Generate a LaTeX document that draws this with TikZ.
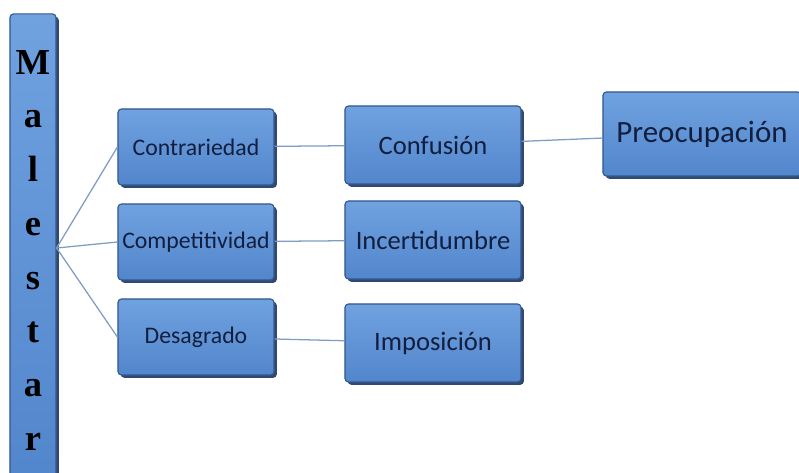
\documentclass[tikz,border=0pt]{standalone}
\usepackage{fontspec}
\setmainfont{Carlito}
\newfontfamily\barfont{Liberation Serif}
\usepackage{xcolor}
\usetikzlibrary{positioning, shadows}
\definecolor{boxtop}{RGB}{112,162,224}
\definecolor{boxbot}{RGB}{82,134,204}
\definecolor{boxedge}{RGB}{52,88,140}
\definecolor{boxshade}{RGB}{38,62,104}
\definecolor{boxtext}{RGB}{18,30,62}
\definecolor{linkc}{RGB}{128,156,196}
\tikzset{
  cbox/.style={draw=boxedge, line width=0.8pt, rounded corners=2.5pt, top color=boxtop, bottom color=boxbot,
    drop shadow={shadow xshift=2pt, shadow yshift=-2pt, fill=boxshade, opacity=0.95},
    text=boxtext, align=center, inner sep=1pt},
  cone/.style={cbox, minimum width=3.9cm, minimum height=1.9cm, font=\fontsize{16.9}{20}\selectfont},
  ctwo/.style={cbox, minimum width=4.4cm, minimum height=1.95cm, font=\fontsize{18.9}{22}\selectfont},
  cthree/.style={cbox, minimum width=4.95cm, minimum height=2.1cm, font=\fontsize{22}{26}\selectfont},
  barbox/.style={cbox, minimum width=1.15cm, minimum height=11.7cm},
  barlbl/.style={align=center, inner sep=0pt, text=black, font=\barfont\bfseries\fontsize{26}{38.2}\selectfont},
  link/.style={draw=linkc, line width=0.9pt},
}
\begin{document}
\begin{tikzpicture}[x=0.025cm, y=-0.025cm]
\useasboundingbox (0,0) rectangle (799,472);
% left bar
\node[barbox] (malestar) at (33,248) {};
\node[barlbl, anchor=north] (letras) at (33,50) {M\\a\\l\\e\\s\\t\\a\\r};
% first column
\node[cone] (contr) at (196,147) {Contrariedad};
\node[cone] (compe) at (196,242) {Competitividad};
\node[cone] (desag) at (196,337) {Desagrado};
% second column
\node[ctwo] (confu) at (433,145) {Confusi\'on};
\node[ctwo] (incer) at (433,240) {Incertidumbre};
\node[ctwo] (impos) at (433,343) {Imposici\'on};
% third column
\node[cthree] (preoc) at (702,134) {Preocupaci\'on};
\draw[link] (malestar.east) -- (contr.west);
\draw[link] (malestar.east) -- (compe.west);
\draw[link] (malestar.east) -- (desag.west);
\draw[link] (contr) -- (confu);
\draw[link] (compe) -- (incer);
\draw[link] (desag) -- (impos);
\draw[link] (confu) -- (preoc);
\end{tikzpicture}
\end{document}
